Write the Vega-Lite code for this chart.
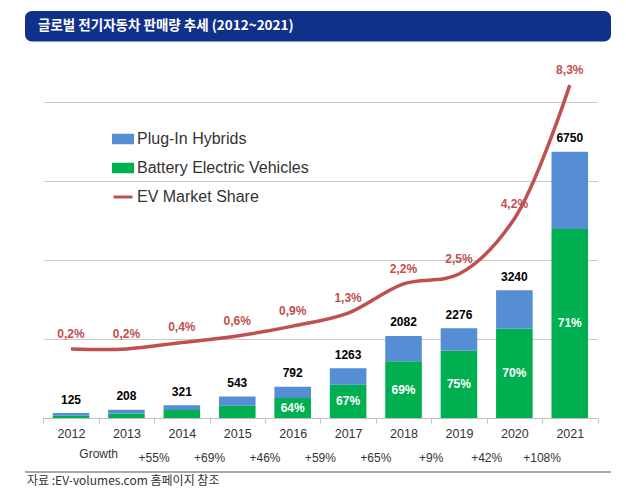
{
  "$schema": "https://vega.github.io/schema/vega-lite/v6.json",
  "padding": {"left": 25, "top": 11, "right": 10, "bottom": 5},
  "background": "white",
  "bounds": "flush",
  "config": {
    "font": "Liberation Sans",
    "view": {"stroke": null},
    "locale": {"number": {"decimal": ",", "thousands": ".", "grouping": [3], "currency": ["", "€"]}},
    "axis": {"minExtent": 0}
  },
  "datasets": {
    "banner": [{"title": "글로벌 전기자동차 판매량 추세 (2012~2021)"}],
    "source": [{"source": "자료 :EV-volumes.com 홈페이지 참조"}],
    "segments": [
      {"year": "2012", "type": "Battery Electric Vehicles", "value": 58},
      {"year": "2012", "type": "Plug-In Hybrids", "value": 67},
      {"year": "2013", "type": "Battery Electric Vehicles", "value": 117},
      {"year": "2013", "type": "Plug-In Hybrids", "value": 91},
      {"year": "2014", "type": "Battery Electric Vehicles", "value": 203},
      {"year": "2014", "type": "Plug-In Hybrids", "value": 118},
      {"year": "2015", "type": "Battery Electric Vehicles", "value": 312},
      {"year": "2015", "type": "Plug-In Hybrids", "value": 231},
      {"year": "2016", "type": "Battery Electric Vehicles", "value": 507, "pct": 0.64},
      {"year": "2016", "type": "Plug-In Hybrids", "value": 285},
      {"year": "2017", "type": "Battery Electric Vehicles", "value": 846, "pct": 0.67},
      {"year": "2017", "type": "Plug-In Hybrids", "value": 417},
      {"year": "2018", "type": "Battery Electric Vehicles", "value": 1437, "pct": 0.69},
      {"year": "2018", "type": "Plug-In Hybrids", "value": 645},
      {"year": "2019", "type": "Battery Electric Vehicles", "value": 1707, "pct": 0.75},
      {"year": "2019", "type": "Plug-In Hybrids", "value": 569},
      {"year": "2020", "type": "Battery Electric Vehicles", "value": 2268, "pct": 0.70},
      {"year": "2020", "type": "Plug-In Hybrids", "value": 972},
      {"year": "2021", "type": "Battery Electric Vehicles", "value": 4793, "pct": 0.71},
      {"year": "2021", "type": "Plug-In Hybrids", "value": 1957}
    ],
    "years": [
      {"year": "2012", "total": 125, "share": 0.002},
      {"year": "2013", "total": 208, "share": 0.002},
      {"year": "2014", "total": 321, "share": 0.004},
      {"year": "2015", "total": 543, "share": 0.006},
      {"year": "2016", "total": 792, "share": 0.009},
      {"year": "2017", "total": 1263, "share": 0.013},
      {"year": "2018", "total": 2082, "share": 0.022},
      {"year": "2019", "total": 2276, "share": 0.025},
      {"year": "2020", "total": 3240, "share": 0.042},
      {"year": "2021", "total": 6750, "share": 0.083}
    ],
    "growth": [
      {"year": "2012", "label": "Growth"},
      {"year": "2014", "growth": 0.55},
      {"year": "2015", "growth": 0.69},
      {"year": "2016", "growth": 0.46},
      {"year": "2017", "growth": 0.59},
      {"year": "2018", "growth": 0.65},
      {"year": "2019", "growth": 0.09},
      {"year": "2020", "growth": 0.42},
      {"year": "2021", "growth": 1.08}
    ]
  },
  "spacing": 21,
  "resolve": {"scale": {"x": "independent", "y": "independent"}},
  "vconcat": [
    {
      "width": 586,
      "height": 30.5,
      "data": {"name": "banner"},
      "layer": [
        {
          "mark": {"type": "rect", "cornerRadius": 7, "color": "#10318a"},
          "encoding": {
            "x": {"field": "title", "type": "nominal", "axis": null, "scale": {"type": "band", "paddingInner": 0, "paddingOuter": 0}}
          }
        },
        {
          "mark": {"type": "text", "align": "left", "baseline": "middle", "dx": 13, "color": "white", "font": "Noto Sans CJK KR", "fontSize": 13.5, "fontWeight": "bold"},
          "encoding": {
            "x": {"field": "title", "type": "nominal", "bandPosition": 0, "axis": null},
            "text": {"field": "title"}
          }
        }
      ]
    },
    {
      "width": 586,
      "height": 355,
      "layer": [
        {
          "layer": [
            {
              "data": {"name": "segments"},
              "mark": {"type": "bar", "width": {"band": 0.66}},
              "encoding": {
                "x": {
                  "field": "year", "type": "ordinal",
                  "scale": {"type": "band", "range": [18.3, 572.5], "paddingInner": 0, "paddingOuter": 0},
                  "axis": {"title": null, "labelAngle": 0, "tickBand": "extent", "domainColor": "#bfbfbf", "tickColor": "#bfbfbf", "tickSize": 5, "labelPadding": 4, "labelColor": "#333333", "labelFontSize": 12.5, "labelFont": "Liberation Sans"}
                },
                "y": {
                  "field": "value", "type": "quantitative", "stack": "zero",
                  "scale": {"domain": [0, 9000], "nice": false},
                  "axis": {"title": null, "labels": false, "ticks": false, "domain": false, "grid": true, "gridColor": "#c9c9c9", "values": [0, 1000, 2000, 3000, 4000, 5000, 6000, 7000, 8000, 9000]}
                },
                "order": {"field": "type", "sort": "ascending"},
                "color": {
                  "field": "type", "type": "nominal",
                  "scale": {"domain": ["Plug-In Hybrids", "Battery Electric Vehicles", "EV Market Share"], "range": ["#558ed5", "#00b050", "#c0504d"]},
                  "legend": {
                    "orient": "none", "legendX": 87, "legendY": 117, "title": null,
                    "values": ["Plug-In Hybrids", "Battery Electric Vehicles", "EV Market Share"],
                    "labelFont": "Liberation Sans", "labelFontSize": 16, "labelColor": "#333333", "labelOffset": 3, "labelLimit": 400,
                    "symbolSize": 361, "rowPadding": 8, "padding": 0,
                    "encode": {
                      "symbols": {
                        "update": {
                          "shape": {"signal": "datum.value === 'EV Market Share' ? 'M-1,0H1' : 'M-1,-0.4H1V0.4H-1Z'"},
                          "fill": {"signal": "datum.value === 'EV Market Share' ? 'transparent' : (datum.value === 'Plug-In Hybrids' ? '#558ed5' : '#00b050')"},
                          "stroke": {"signal": "datum.value === 'EV Market Share' ? '#c0504d' : 'transparent'"},
                          "strokeWidth": {"value": 3},
                          "opacity": {"value": 1}
                        }
                      }
                    }
                  }
                }
              }
            },
            {
              "data": {"name": "years"},
              "mark": {"type": "text", "baseline": "middle", "dy": -13.5, "fontSize": 12, "fontWeight": "bold", "color": "#000000"},
              "encoding": {
                "x": {"field": "year", "type": "ordinal"},
                "y": {"field": "total", "type": "quantitative"},
                "text": {"field": "total", "type": "quantitative", "format": "d"}
              }
            }
          ]
        },
        {
          "data": {"name": "segments"},
          "transform": [{"filter": "isValid(datum.pct)"}],
          "mark": {"type": "text", "baseline": "middle", "fontSize": 12, "fontWeight": "bold", "color": "#ffffff"},
          "encoding": {
            "x": {"field": "year", "type": "ordinal"},
            "y": {"field": "value", "type": "quantitative", "stack": null, "scale": {"domain": [0, 18000], "nice": false}, "axis": null},
            "text": {"field": "pct", "type": "quantitative", "format": ".0%"}
          }
        },
        {
          "data": {"name": "years"},
          "layer": [
            {
              "mark": {"type": "line", "strokeWidth": 3.5, "interpolate": "catmull-rom"},
              "encoding": {
                "x": {"field": "year", "type": "ordinal"},
                "y": {"field": "share", "type": "quantitative", "scale": {"domain": [-0.0192, 0.0898], "nice": false, "zero": false}, "axis": null},
                "color": {"datum": "EV Market Share"}
              }
            },
            {
              "mark": {"type": "text", "baseline": "middle", "dy": -15, "fontSize": 12, "fontWeight": "bold", "color": "#c0504d"},
              "encoding": {
                "x": {"field": "year", "type": "ordinal"},
                "y": {"field": "share", "type": "quantitative"},
                "text": {"field": "share", "type": "quantitative", "format": ".1%"}
              }
            }
          ]
        }
      ],
      "resolve": {"scale": {"y": "independent"}}
    },
    {
      "spacing": 0,
      "bounds": "flush",
      "resolve": {"scale": {"x": "independent", "y": "independent"}},
      "vconcat": [
        {
          "width": 586,
          "height": 31.5,
          "data": {"name": "growth"},
          "layer": [
            {
              "transform": [{"filter": "isValid(datum.growth)"}],
              "mark": {"type": "text", "baseline": "middle", "dy": 3.25, "fontSize": 12, "color": "#333333"},
              "encoding": {
                "x": {
                  "field": "year", "type": "ordinal", "bandPosition": 0,
                  "scale": {"type": "band", "domain": ["2012", "2013", "2014", "2015", "2016", "2017", "2018", "2019", "2020", "2021"], "paddingInner": 0, "paddingOuter": 0.287, "align": 0.575},
                  "axis": null
                },
                "text": {"field": "growth", "type": "quantitative", "format": "+.0%"}
              }
            },
            {
              "transform": [{"filter": "isValid(datum.label)"}],
              "mark": {"type": "text", "baseline": "middle", "dy": -1, "fontSize": 12, "color": "#333333"},
              "encoding": {
                "x": {"field": "year", "type": "ordinal", "bandPosition": 1},
                "text": {"field": "label"}
              }
            }
          ]
        },
        {
          "width": 586,
          "height": 2,
          "data": {"name": "source"},
          "mark": {"type": "bar", "color": "#a8a8a8"},
          "encoding": {
            "x": {"field": "source", "type": "nominal", "axis": null, "scale": {"type": "band", "paddingInner": 0, "paddingOuter": 0}}
          }
        },
        {
          "width": 586,
          "height": 16,
          "data": {"name": "source"},
          "mark": {"type": "text", "align": "left", "baseline": "middle", "dx": 2, "font": "Noto Sans CJK KR", "fontSize": 12, "color": "#333333"},
          "encoding": {
            "x": {"field": "source", "type": "nominal", "bandPosition": 0, "axis": null, "scale": {"type": "band", "paddingInner": 0, "paddingOuter": 0}},
            "text": {"field": "source"}
          }
        }
      ]
    }
  ]
}
